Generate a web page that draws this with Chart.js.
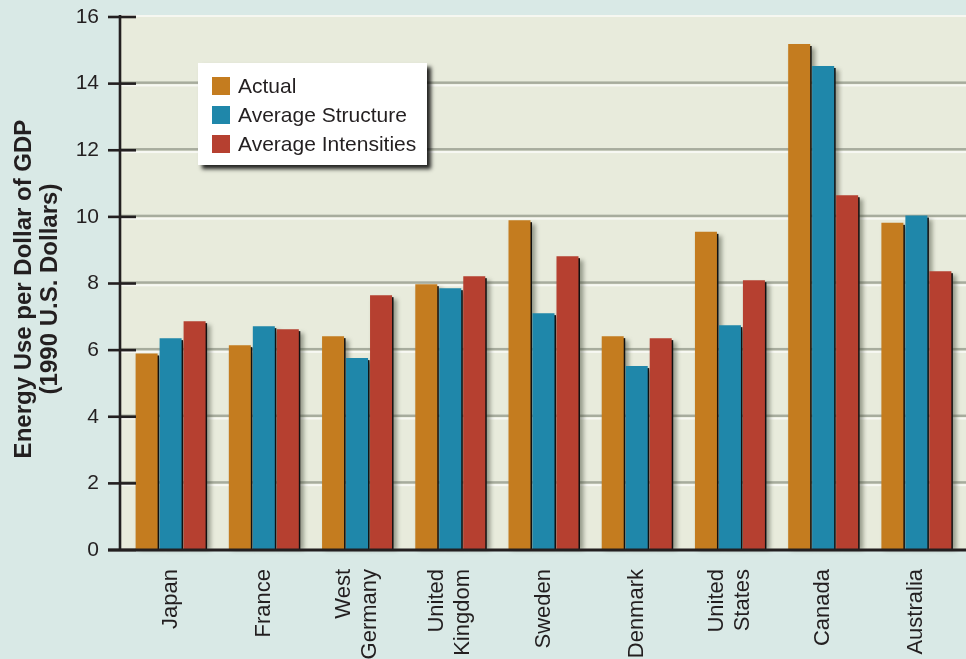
<!DOCTYPE html>
<html>
<head>
<meta charset="utf-8">
<script src="https://cdn.jsdelivr.net/npm/chart.js@4.4.1/dist/chart.umd.min.js"></script>
<style>
  html, body { margin: 0; padding: 0; background: #d9e9e6; }
  #wrap { width: 966px; height: 659px; position: relative; }
</style>
</head>
<body>
<div id="wrap"><canvas id="c" width="966" height="659"></canvas></div>
<script>
// Energy use per dollar of GDP, by country
const countries = [["Japan"], ["France"], ["West", "Germany"], ["United", "Kingdom"], ["Sweden"],
                   ["Denmark"], ["United", "States"], ["Canada"], ["Australia"]];
const actual             = [5.90, 6.15, 6.42, 7.98, 9.90, 6.42, 9.55, 15.19, 9.82];
const averageStructure   = [6.36, 6.72, 5.76, 7.86, 7.11, 5.52, 6.75, 14.53, 10.04];
const averageIntensities = [6.87, 6.63, 7.65, 8.22, 8.82, 6.36, 8.10, 10.65, 8.37];
const seriesNames = ["Actual", "Average Structure", "Average Intensities"];
const seriesColors = ["#c47c1f", "#1f87aa", "#b64030"];
const yMin = 0, yMax = 16, yStep = 2;
const yTitle = ["Energy Use per Dollar of GDP", "(1990 U.S. Dollars)"];

const INK = "#231f20";
const FONT = "'Liberation Sans', Arial, Helvetica, sans-serif";
const AXIS_X = 120;

// plot panel, embossed gridlines and bar drop shadows
const backdrop = {
  id: "backdrop",
  beforeDatasetsDraw(chart) {
    const { ctx, chartArea: a, scales: { y } } = chart;
    const w = chart.width - AXIS_X;
    ctx.save();
    ctx.fillStyle = "#e8ebdc";
    ctx.fillRect(AXIS_X, a.top - 2, w, a.bottom - a.top + 2);
    ctx.fillStyle = "#f6f7f1";
    ctx.fillRect(AXIS_X, a.top - 2, w, 2);
    y.ticks.forEach(t => {
      if (t.value === yMin || t.value === yMax) return;
      const py = y.getPixelForValue(t.value);
      ctx.fillStyle = "#a7ac9d";
      ctx.fillRect(AXIS_X, py - 2.2, w, 2.5);
      ctx.fillStyle = "#f7f8f3";
      ctx.fillRect(AXIS_X, py + 0.8, w, 2);
    });
    chart.data.datasets.forEach((ds, i) => {
      chart.getDatasetMeta(i).data.forEach(bar => {
        const { x, y: top, base, width } = bar.getProps(["x", "y", "base", "width"], true);
        const l = x - width / 2, h = base - top;
        ctx.filter = "blur(2px)";
        ctx.fillStyle = "rgba(70,75,60,0.5)";
        ctx.fillRect(l + 3, top + 4, width + 2, h - 4);
        ctx.filter = "none";
        ctx.fillStyle = "#111";
        ctx.fillRect(l + 1.5, top + 2, width, h - 2);
      });
    });
    ctx.restore();
  }
};

// axes, category labels, axis title and legend
const frame = {
  id: "frame",
  afterDatasetsDraw(chart) {
    const { ctx, chartArea: a, scales: { x, y } } = chart;
    ctx.save();
    ctx.fillStyle = INK;
    // y axis line and tick marks
    ctx.fillRect(AXIS_X - 1.3, a.top - 2, 2.6, a.bottom - a.top + 3);
    y.ticks.forEach(t => {
      const py = y.getPixelForValue(t.value);
      ctx.fillRect(108, py - 1.3, 28, 2.6);
    });
    // x axis line
    ctx.fillRect(108, a.bottom - 1.5, chart.width - 108, 3);

    // category labels, rotated, lines centred on the category
    ctx.font = "22px " + FONT;
    ctx.textAlign = "right";
    ctx.textBaseline = "middle";
    const lh = 26;
    chart.data.labels.forEach((lab, i) => {
      const lines = Array.isArray(lab) ? lab : [lab];
      const px = x.getPixelForValue(i);
      lines.forEach((s, j) => {
        const cx = px + (j - (lines.length - 1) / 2) * lh;
        ctx.save();
        ctx.translate(cx, a.bottom + 19);
        ctx.rotate(-Math.PI / 2);
        ctx.fillText(s, 0, 0);
        ctx.restore();
      });
    });

    // y axis title
    ctx.font = "bold 24px " + FONT;
    ctx.textAlign = "center";
    ctx.textBaseline = "alphabetic";
    [31, 57].forEach((bx, j) => {
      ctx.save();
      ctx.translate(bx, 289);
      ctx.rotate(-Math.PI / 2);
      ctx.fillText(yTitle[j], 0, 0);
      ctx.restore();
    });

    // legend
    const L = { x: 198, y: 63, w: 229, h: 102 };
    ctx.save();
    ctx.shadowColor = "rgba(0,0,0,0.85)";
    ctx.shadowBlur = 4;
    ctx.shadowOffsetX = 4;
    ctx.shadowOffsetY = 4;
    ctx.fillStyle = "#ffffff";
    ctx.fillRect(L.x, L.y, L.w, L.h);
    ctx.restore();
    ctx.font = "21px " + FONT;
    ctx.textAlign = "left";
    ctx.textBaseline = "middle";
    chart.data.datasets.forEach((ds, i) => {
      const sy = 77 + i * 29;
      ctx.fillStyle = ds.backgroundColor;
      ctx.fillRect(212, sy, 18, 18);
      ctx.fillStyle = INK;
      ctx.fillText(ds.label, 238, sy + 10);
    });
    ctx.restore();
  }
};

const seriesValues = [actual, averageStructure, averageIntensities];

new Chart(document.getElementById("c"), {
  type: "bar",
  data: {
    labels: countries,
    datasets: seriesNames.map((name, i) => ({
      label: name,
      data: seriesValues[i],
      backgroundColor: seriesColors[i],
      borderWidth: 0,
      barPercentage: 0.917,
      categoryPercentage: 0.772
    }))
  },
  options: {
    responsive: false,
    devicePixelRatio: 1,
    animation: false,
    layout: { padding: { top: 17, right: 3, bottom: 0, left: 0 } },
    plugins: { legend: { display: false }, tooltip: { enabled: false } },
    scales: {
      x: {
        grid: { display: false, drawTicks: false },
        border: { display: false },
        ticks: { display: false },
        afterFit(s) { s.height = 109; s.paddingLeft = 0; s.paddingRight = 0; }
      },
      y: {
        min: yMin,
        max: yMax,
        grid: { display: false, drawTicks: false },
        border: { display: false },
        ticks: {
          stepSize: yStep,
          padding: 25,
          color: INK,
          font: { family: FONT, size: 21 }
        },
        afterFit(s) { s.width = 124; s.paddingTop = 0; s.paddingBottom = 0; }
      }
    }
  },
  plugins: [backdrop, frame]
});
</script>
</body>
</html>
